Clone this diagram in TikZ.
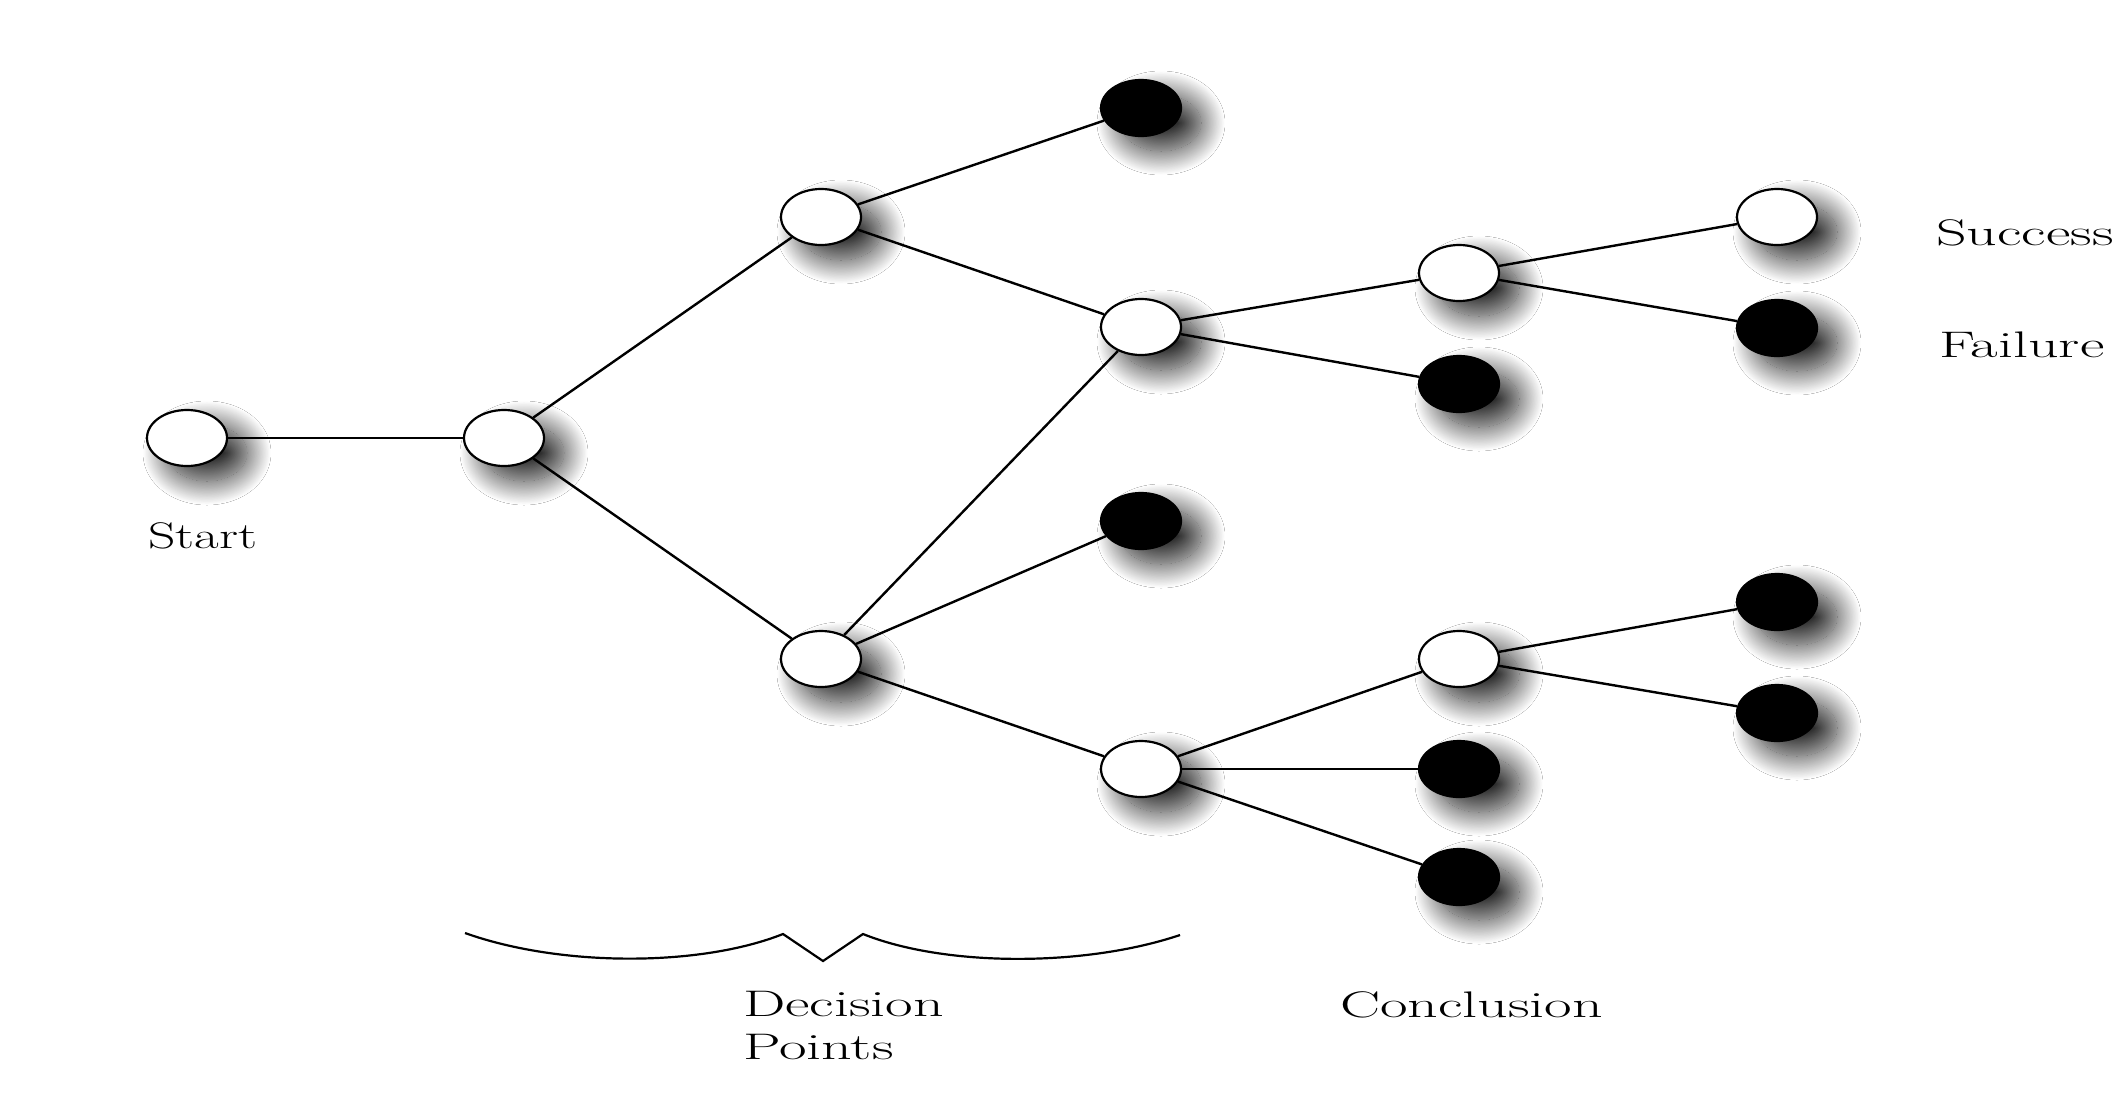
\documentclass[tikz,border=0pt]{standalone}
\usepackage{fontspec}
\usetikzlibrary{shapes.geometric,shadows.blur}
\newfontfamily\labfont[FakeStretch=1.45]{Latin Modern Roman}
\newfontfamily\widefont[FakeStretch=1.62]{Latin Modern Roman}
\begin{document}
\begin{tikzpicture}[x=1pt,y=-1pt,
  nd/.style={ellipse, minimum width=80pt, minimum height=56pt, inner sep=0pt,
    line width=2.2pt, draw=black,
    blur shadow={shadow xshift=20pt, shadow yshift=-15pt,
      shadow blur radius=24pt, shadow blur steps=40, shadow opacity=85}},
  wn/.style={nd, fill=white},
  bn/.style={nd, fill=black},
  link/.style={line width=2.4pt},
  lab/.style={font=\labfont\fontsize{37}{43}\selectfont, inner sep=0pt},
  wlab/.style={font=\widefont\fontsize{37}{43}\selectfont, inner sep=0pt}]
\useasboundingbox[fill=white] (0,0) rectangle (2122,1112);
% nodes
\node[wn] (start) at (187,438) {};
\node[wn] (n1) at (504,438) {};
\node[wn] (A) at (821,217) {};
\node[wn] (B) at (821,659) {};
\node[bn] (k1) at (1141,108) {};
\node[wn] (C) at (1141,327) {};
\node[bn] (k2) at (1141,521) {};
\node[wn] (D) at (1141,769) {};
\node[wn] (E) at (1459,273) {};
\node[bn] (k3) at (1459,384) {};
\node[wn] (F) at (1459,659) {};
\node[bn] (k4) at (1459,769) {};
\node[bn] (k5) at (1459,877) {};
\node[wn] (S) at (1777,217) {};
\node[bn] (k6) at (1777,328) {};
\node[bn] (k7) at (1777,602) {};
\node[bn] (k8) at (1777,713) {};
% connectors
\draw[link] (start) -- (n1);
\draw[link] (n1) -- (A);
\draw[link] (n1) -- (B);
\draw[link] (A) -- (k1);
\draw[link] (A) -- (C);
\draw[link] (B) -- (C);
\draw[link] (B) -- (k2);
\draw[link] (B) -- (D);
\draw[link] (C) -- (E);
\draw[link] (C) -- (k3);
\draw[link] (E) -- (S);
\draw[link] (E) -- (k6);
\draw[link] (D) -- (F);
\draw[link] (D) -- (k4);
\draw[link] (D) -- (k5);
\draw[link] (F) -- (k7);
\draw[link] (F) -- (k8);
% brace
\draw[line width=2.2pt, line join=miter]
  (465,933) .. controls (560,967) and (700,967) .. (783,934)
  -- (823,961) -- (863,934)
  .. controls (945,967) and (1085,967) .. (1180,935);
% labels
\node[lab, anchor=base west] (startlab) at (148,548) {Start};
\node[wlab, anchor=base west] (succlab) at (1936,245) {Success};
\node[wlab, anchor=base west] (faillab) at (1939,357) {Failure};
\node[wlab, anchor=base west] (concllab) at (1340,1017) {Conclusion};
\node[wlab, align=left, anchor=north west] (declab) at (743,991) {Decision\\Points};
\end{tikzpicture}
\end{document}
